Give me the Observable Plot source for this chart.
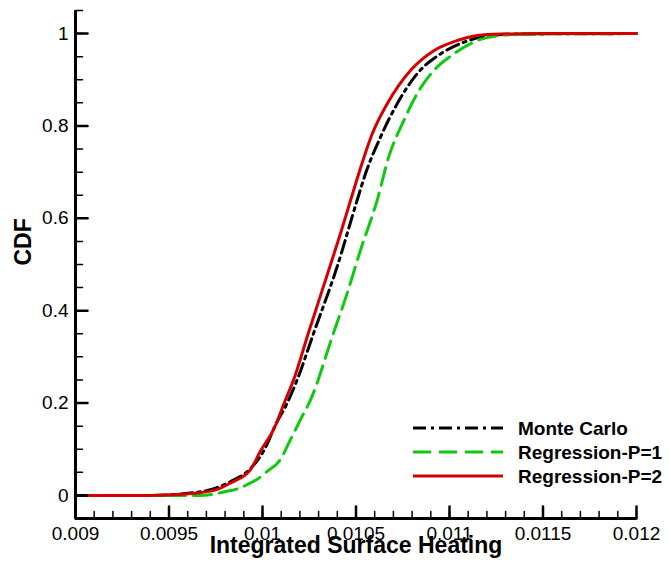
<!DOCTYPE html>
<html>
<head>
<meta charset="utf-8">
<script src="https://cdn.jsdelivr.net/npm/d3@7"></script>
<script src="https://cdn.jsdelivr.net/npm/@observablehq/plot@0.6"></script>
<style>
  body { margin: 0; background: #fff; }
  #chart { width: 669px; height: 567px; }
</style>
</head>
<body>
<div id="chart"></div>
<script>
// Cumulative distribution of integrated surface heating
const monteCarloX = [0.009, 0.0094, 0.00967, 0.00983, 0.00994, 0.01001, 0.01007, 0.010132, 0.010186, 0.010273, 0.010399, 0.010506, 0.010551, 0.010631, 0.01072, 0.010827, 0.010952, 0.011075, 0.011219, 0.01138, 0.012];
const monteCarloY = [0, 0, 0.008, 0.03, 0.06, 0.099, 0.153, 0.2, 0.251, 0.351, 0.495, 0.639, 0.697, 0.776, 0.848, 0.913, 0.956, 0.981, 0.996, 0.999, 1];

const regP1X = [0.009075, 0.009668, 0.009811, 0.009856, 0.009936, 0.009972, 0.010025, 0.010096, 0.01015, 0.010203, 0.010257, 0.01038, 0.010453, 0.010524, 0.010613, 0.010675, 0.010756, 0.010827, 0.010916, 0.011023, 0.011148, 0.011273, 0.011433, 0.012];
const regP1Y = [0, 0, 0.009, 0.013, 0.027, 0.035, 0.052, 0.078, 0.121, 0.164, 0.207, 0.352, 0.438, 0.531, 0.639, 0.733, 0.812, 0.87, 0.92, 0.956, 0.985, 0.996, 0.999, 1];

const regP2X = [0.009075, 0.0094, 0.009668, 0.009758, 0.009829, 0.009936, 0.009989, 0.01006, 0.010123, 0.010167, 0.010245, 0.01036, 0.010417, 0.010471, 0.010515, 0.010587, 0.010667, 0.010791, 0.010916, 0.011041, 0.011148, 0.011273, 0.011487, 0.012];
const regP2Y = [0, 0, 0.006, 0.013, 0.027, 0.056, 0.096, 0.143, 0.207, 0.251, 0.351, 0.495, 0.567, 0.639, 0.697, 0.783, 0.848, 0.92, 0.963, 0.985, 0.996, 0.999, 1, 1];

const seriesNames = ["Monte Carlo", "Regression-P=1", "Regression-P=2"];

const xTickValues = [0.009, 0.0095, 0.01, 0.0105, 0.011, 0.0115, 0.012];
const yTickValues = [0, 0.2, 0.4, 0.6, 0.8, 1];

const xMinorTicks = d3.range(90, 121).map(k => k / 10000);
const yMinorTicks = d3.range(0, 22).map(k => k / 20);

const series = [
  {name: seriesNames[0], x: monteCarloX, y: monteCarloY, stroke: "#000000", dash: "13,5,3,5"},
  {name: seriesNames[1], x: regP1X, y: regP1Y, stroke: "#10c810", dash: "18,8"},
  {name: seriesNames[2], x: regP2X, y: regP2Y, stroke: "#d40000", dash: null}
];
const rows = s => s.x.map((x, i) => ({x, y: s.y[i]}));

const font = "'Liberation Sans', Arial, Helvetica, sans-serif";
const tickFont = 19;

const W = 669, H = 567, mL = 75, mR = 33, mT = 10, mB = 49;
const xDomain = [0.009, 0.012], yDomain = [-0.05, 1.05];
// data units per pixel, so tick lengths can be given in pixels
const perPxX = (xDomain[1] - xDomain[0]) / (W - mL - mR);
const perPxY = (yDomain[1] - yDomain[0]) / (H - mT - mB);

// each tick is a short two-point segment, grouped by tick index
const xTickSegs = (values, len) => values.flatMap((v, i) => [
  {x: v, y: yDomain[0], k: i}, {x: v, y: yDomain[0] + len * perPxY, k: i}
]);
const yTickSegs = (values, len) => values.flatMap((v, i) => [
  {x: xDomain[0], y: v, k: i}, {x: xDomain[0] + len * perPxX, y: v, k: i}
]);
const tickLine = (segs, width) => Plot.line(segs, {x: "x", y: "y", z: "k", stroke: "#000", strokeWidth: width});

const plot = Plot.plot({
  width: W,
  height: H,
  marginLeft: mL,
  marginRight: mR,
  marginTop: mT,
  marginBottom: mB,
  x: {domain: xDomain, axis: null},
  y: {domain: yDomain, axis: null},
  style: {fontFamily: font, color: "#000", background: "#fff"},
  marks: [
    // inward-pointing minor and major ticks
    tickLine(xTickSegs(xMinorTicks, 7), 1.5),
    tickLine(xTickSegs(xTickValues, 12), 2.5),
    tickLine(yTickSegs(yMinorTicks, 7), 1.5),
    tickLine(yTickSegs(yTickValues, 12), 2.5),
    // tick labels
    Plot.text(xTickValues, {x: d => d, text: d => String(d), frameAnchor: "bottom", lineAnchor: "top", dy: 8, fontSize: tickFont}),
    Plot.text(yTickValues, {y: d => d, text: d => String(d), frameAnchor: "left", textAnchor: "end", dx: -7, fontSize: tickFont}),
    // axis lines
    Plot.ruleX([xDomain[0]], {strokeWidth: 3}),
    Plot.ruleY([yDomain[0]], {strokeWidth: 3}),
    ...series.map(s => Plot.line(rows(s), {
      x: "x", y: "y", curve: "monotone-x",
      stroke: s.stroke, strokeWidth: 3,
      strokeDasharray: s.dash
    })),
    Plot.text(["Integrated Surface Heating"], {frameAnchor: "bottom", dy: 34, fontSize: 23, fontWeight: "bold"}),
    Plot.text(["CDF"], {frameAnchor: "left", dx: -52, dy: 1, rotate: -90, fontSize: 23, fontWeight: "bold"})
  ]
});

// Legend in the lower right of the plot area
const legend = d3.select(plot).append("g")
  .attr("font-family", font)
  .attr("font-size", 19)
  .attr("font-weight", "bold")
  .attr("text-anchor", "start");
series.forEach((s, i) => {
  const y = 428 + i * 24;
  legend.append("line")
    .attr("x1", 413).attr("x2", 503).attr("y1", y).attr("y2", y)
    .attr("stroke", s.stroke).attr("stroke-width", 3)
    .attr("stroke-dasharray", s.dash);
  legend.append("text")
    .attr("x", 518).attr("y", y)
    .attr("dy", "0.35em")
    .attr("fill", "#000")
    .text(s.name);
});

document.getElementById("chart").append(plot);
</script>
</body>
</html>
